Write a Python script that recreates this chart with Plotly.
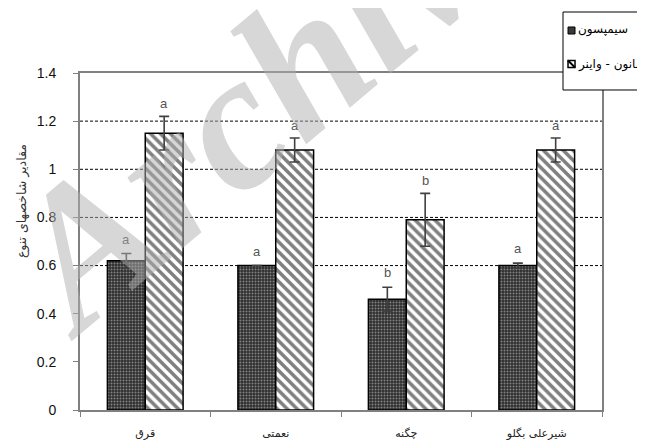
import plotly.graph_objects as go

categories = ["قرق", "نعمتی", "چگنه", "شیرعلی بگلو"]
simpson = [0.62, 0.60, 0.46, 0.60]
simpson_err = [0.03, 0.0, 0.05, 0.01]
shannon = [1.15, 1.08, 0.79, 1.08]
shannon_err = [0.07, 0.05, 0.11, 0.05]
simpson_letters = ["a", "a", "b", "a"]
shannon_letters = ["a", "a", "b", "a"]
y_ticks = [0, 0.2, 0.4, 0.6, 0.8, 1.0, 1.2, 1.4]
y_tick_text = ["0", "0.2", "0.4", "0.6", "0.8", "1", "1.2", "1.4"]
grid_values = [0.6, 0.8, 1.0, 1.2]
series_names = ["سیمپسون", "شانون - واینر"]
y_title = "مقادیر شاخصهای تنوع"
watermark = "Archive"

DARK = dict(shape=".", bgcolor="#2e2e2e", fgcolor="#d8d8d8", size=3, solidity=0.35)
HATCH = dict(shape="\\", bgcolor="white", fgcolor="black", size=7, solidity=0.5)

fig = go.Figure()
fig.add_trace(go.Bar(
    x=categories, y=simpson, name=series_names[0], showlegend=False,
    error_y=dict(type="data", array=simpson_err, color="#404040", thickness=1.6, width=5),
    marker=dict(color="#3a3a3a", line=dict(color="black", width=1.5), pattern=DARK),
))
fig.add_trace(go.Bar(
    x=categories, y=shannon, name=series_names[1], showlegend=False,
    error_y=dict(type="data", array=shannon_err, color="#404040", thickness=1.6, width=5),
    marker=dict(color="white", line=dict(color="black", width=1.5), pattern=HATCH),
))

for gv in grid_values:
    fig.add_shape(type="line", xref="paper", yref="y", x0=0, x1=1, y0=gv, y1=gv,
                  line=dict(color="black", width=1, dash="3px,2px"), layer="below")

for i, c in enumerate(categories):
    fig.add_annotation(x=c, y=simpson[i] + simpson_err[i], text=simpson_letters[i], xshift=-19,
                       yshift=5, yanchor="bottom", showarrow=False,
                       font=dict(family="Liberation Sans, Arial", size=13, color="#555555"))
    fig.add_annotation(x=c, y=shannon[i] + shannon_err[i], text=shannon_letters[i], xshift=19,
                       yshift=3, yanchor="bottom", showarrow=False,
                       font=dict(family="Liberation Sans, Arial", size=13, color="#555555"))

# y-axis title
fig.add_annotation(xref="paper", yref="paper", x=-0.111, y=0.62, text=y_title, textangle=-90,
                   xanchor="center", yanchor="middle", showarrow=False,
                   font=dict(family="DejaVu Sans", size=12.5, color="#333333"))

# watermark
fig.add_annotation(xref="paper", yref="paper", x=0.37, y=0.96, text="<i><b>" + watermark + "</b></i>",
                   textangle=-40, xanchor="center", yanchor="middle", showarrow=False, opacity=0.5,
                   font=dict(family="Liberation Serif", size=195, color="#b0b0b0"))

# legend box (drawn manually)
fig.add_shape(type="rect", xref="paper", yref="paper", x0=0.9253, x1=1.2, y0=0.9496, y1=1.181,
              fillcolor="white", line=dict(color="black", width=1), layer="above")
fig.add_shape(type="rect", xref="paper", yref="paper", x0=0.9349, x1=0.9483, y0=1.1157, y1=1.1365,
              fillcolor="#3a3a3a", line=dict(color="black", width=1), layer="above")
fig.add_shape(type="rect", xref="paper", yref="paper", x0=0.9349, x1=0.9483, y0=1.0163, y1=1.0371,
              fillcolor="white", line=dict(color="black", width=1.5), layer="above")
fig.add_shape(type="line", xref="paper", yref="paper", x0=0.9349, x1=0.9483, y0=1.0371, y1=1.0163,
              line=dict(color="black", width=2), layer="above")
fig.add_annotation(xref="paper", yref="paper", x=0.9502, y=1.1276, xanchor="left", yanchor="middle",
                   text=series_names[0], showarrow=False,
                   font=dict(family="DejaVu Sans", size=12, color="black"))
fig.add_annotation(xref="paper", yref="paper", x=0.9502, y=1.0267, xanchor="left", yanchor="middle",
                   text=series_names[1], showarrow=False,
                   font=dict(family="DejaVu Sans", size=12, color="black"))

fig.update_layout(
    width=637, height=440,
    margin=dict(l=72, r=43, t=65, b=38, autoexpand=False),
    paper_bgcolor="white", plot_bgcolor="white",
    barmode="group", bargap=0.42, bargroupgap=0,
    showlegend=False,
    xaxis=dict(showline=True, linecolor="#808080", linewidth=2, mirror=True,
               ticks="outside", tickson="boundaries", ticklen=5, tickcolor="#808080",
               tickfont=dict(family="DejaVu Sans", size=11, color="#222222"),
               ticklabelstandoff=12, showgrid=False, fixedrange=True),
    yaxis=dict(range=[0, 1.4], tickvals=y_ticks, ticktext=y_tick_text,
               showline=True, linecolor="#808080", linewidth=2, mirror=True,
               ticks="outside", ticklen=5, tickcolor="#808080",
               tickfont=dict(family="Liberation Sans, Arial", size=14, color="#111111"),
               ticklabelstandoff=14, showgrid=False, zeroline=False),
)

fig.write_html("out.html")
